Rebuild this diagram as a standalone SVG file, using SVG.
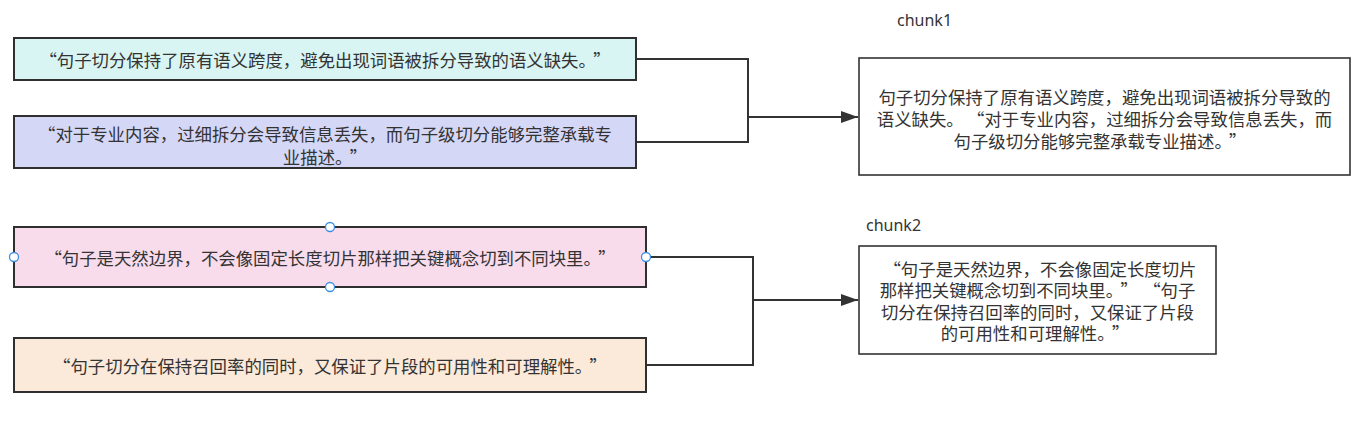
<svg xmlns="http://www.w3.org/2000/svg" width="1368" height="439" viewBox="0 0 1368 439">
<style>
.t{font-family:"Noto Sans CJK SC","Noto Sans",sans-serif;font-size:17.4px;fill:#333;text-anchor:middle;dominant-baseline:central}
.lbl{font-family:"Noto Sans","Noto Sans CJK SC",sans-serif;font-size:16px;fill:#333}
.src{stroke:#2f2f2f;stroke-width:2}
.dst{fill:#fff;stroke:#333;stroke-width:1.6}
.c{fill:none;stroke:#333;stroke-width:2}
.h{fill:#fff;stroke:#3a8ee6;stroke-width:1.3}
</style>
<defs>
<marker id="arr" markerWidth="17" markerHeight="12" refX="17" refY="6" orient="auto" markerUnits="userSpaceOnUse" viewBox="0 0 17 12">
<path d="M0,0 L17,6 L0,12 z" fill="#333"/>
</marker>
</defs>
<rect width="1368" height="439" fill="#fff"/>
<g id="connectors">
<polyline class="c" points="636,59 748,59 748,142 636,142"/>
<line class="c" x1="748" y1="117" x2="858" y2="117" marker-end="url(#arr)"/>
<polyline class="c" points="646,257 753,257 753,365 646,365"/>
<line class="c" x1="753" y1="300" x2="858" y2="300" marker-end="url(#arr)"/>
</g>
<g id="n1">
<rect class="src" x="14" y="38" width="622" height="42" fill="#d9f5f3"/>
<text class="t" x="325" y="59">“句子切分保持了原有语义跨度，避免出现词语被拆分导致的语义缺失。<tspan dx="6">”</tspan></text>
</g>
<g id="n2">
<rect class="src" x="14" y="116" width="622" height="52" fill="#d5d7f7"/>
<text class="t" x="325" y="133">“对于专业内容，过细拆分会导致信息丢失，而句子级切分能够完整承载专</text>
<text class="t" x="325" y="156">业描述。<tspan dx="6">”</tspan></text>
</g>
<g id="n3">
<rect class="src" x="14" y="227" width="632" height="60" fill="#f9dcec"/>
<text class="t" x="330" y="257">“句子是天然边界，不会像固定长度切片那样把关键概念切到不同块里。<tspan dx="6">”</tspan></text>
<circle class="h" cx="330" cy="227" r="4.5"/>
<circle class="h" cx="330" cy="287" r="4.5"/>
<circle class="h" cx="14" cy="257" r="4.5"/>
<circle class="h" cx="646" cy="257" r="4.5"/>
</g>
<g id="n4">
<rect class="src" x="14" y="338" width="632" height="54" fill="#fbe9d9"/>
<text class="t" x="330" y="365">“句子切分在保持召回率的同时，又保证了片段的可用性和可理解性。<tspan dx="6">”</tspan></text>
</g>
<g id="chunk1">
<text class="lbl" x="897" y="26">chunk1</text>
<rect class="dst" x="859" y="58" width="491" height="117"/>
<text class="t" x="1104.5" y="96">句子切分保持了原有语义跨度，避免出现词语被拆分导致的</text>
<text class="t" x="1104.5" y="118">语义缺失。<tspan dx="12">“</tspan>对于专业内容，过细拆分会导致信息丢失，而</text>
<text class="t" x="1100" y="140">句子级切分能够完整承载专业描述。<tspan dx="6">”</tspan></text>
</g>
<g id="chunk2">
<text class="lbl" x="866" y="231">chunk2</text>
<rect class="dst" x="859" y="246" width="357" height="108"/>
<text class="t" x="1040" y="268">“句子是天然边界，不会像固定长度切片</text>
<text class="t" x="1037.5" y="289">那样把关键概念切到不同块里。<tspan dx="6">”</tspan><tspan dx="14">“</tspan>句子</text>
<text class="t" x="1037.5" y="311">切分在保持召回率的同时，又保证了片段</text>
<text class="t" x="1035" y="332">的可用性和可理解性。<tspan dx="6">”</tspan></text>
</g>
</svg>
